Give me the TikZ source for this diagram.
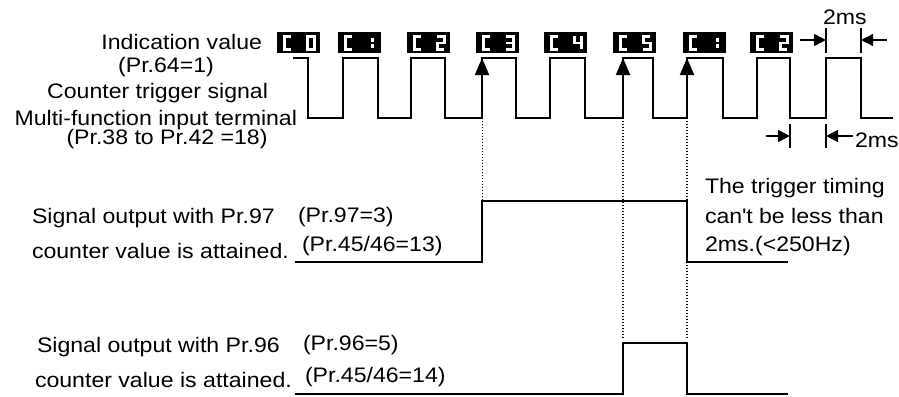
\documentclass[tikz,border=0pt]{standalone}
\usepackage{fontspec}
\setmainfont{Liberation Sans}[FakeStretch=1.1]
\usetikzlibrary{arrows.meta,calc}
\tikzset{
  lbl/.style={inner sep=0pt, outer sep=0pt},
  sig/.style={line width=2pt, line join=miter},
  outsig/.style={line width=2.6pt, line join=miter},
  guide/.style={line width=1.3pt, dash pattern=on 1.3pt off 1.7pt},
  segbox/.style={fill=black, draw=none, minimum width=43pt, minimum height=21pt, inner sep=0pt},
  segline/.style={white, line width=2.6pt, line join=miter, line cap=butt},
  trig/.style={line width=2pt, -{Triangle[length=17pt,width=14pt]}},
  dimarrow/.style={line width=1.5pt, -{Triangle[length=12pt,width=12pt]}},
  tickline/.style={line width=1.2pt},
  digC/.pic={\draw[segline] (6.5,0)--(0,0)--(0,13)--(6.5,13);},
  dig0/.pic={\draw[segline] (0,0) rectangle (7,13);},
  dig1/.pic={\draw[segline] (4,1.5)--(4,5.5) (4,7.5)--(4,11.5);},
  dig2/.pic={\draw[segline] (0,0)--(7,0)--(7,6.5)--(0,6.5)--(0,13)--(7,13);},
  dig3/.pic={\draw[segline] (0,0)--(7,0)--(7,13)--(0,13) (0,6.5)--(7,6.5);},
  dig4/.pic={\draw[segline] (0,0)--(0,6.5)--(7,6.5) (7,0)--(7,13);},
  dig5/.pic={\draw[segline] (7,0)--(0,0)--(0,6.5)--(7,6.5)--(7,13)--(0,13);},
}
\newcommand\indbox[3]{%
  \node[segbox] (#1) at ({#2+21.5},42.5) {};
  \pic at ({#2+7.3},36.5) {digC};
  \pic at ({#2+30.3},36.5) {#3};}
\begin{document}
\begin{tikzpicture}[x=1pt,y=-1pt, font=\fontsize{21}{25}\selectfont]
\useasboundingbox (0,0) rectangle (899,396);

% indication boxes
\indbox{i0}{277}{dig0}
\indbox{i1}{338}{dig1}
\indbox{i2}{407}{dig2}
\indbox{i3}{476}{dig3}
\indbox{i4}{544}{dig4}
\indbox{i5}{613}{dig5}
\indbox{i6}{683}{dig1}
\indbox{i7}{750}{dig2}

% left labels
\node[lbl, anchor=base east] (t1) at (262,50) {Indication value};
\node[lbl, anchor=base] (t2) at (166,73) {(Pr.64=1)};
\node[lbl, anchor=base east] (t3) at (268,98) {Counter trigger signal};
\node[lbl, anchor=base east] (t4) at (297,125) {Multi-function input terminal};
\node[lbl, anchor=base] (t5) at (167,144) {(Pr.38 to Pr.42 =18)};
\node[lbl, anchor=base west] (t6) at (32,223) {Signal output with Pr.97};
\node[lbl, anchor=base west] (t7) at (298,222) {(Pr.97=3)};
\node[lbl, anchor=base west] (t8) at (32,258) {counter value is attained.};
\node[lbl, anchor=base west] (t9) at (302,251) {(Pr.45/46=13)};
\node[lbl, anchor=base west] (t10) at (37,352) {Signal output with Pr.96};
\node[lbl, anchor=base west] (t11) at (303,350) {(Pr.96=5)};
\node[lbl, anchor=base west] (t12) at (35,387) {counter value is attained.};
\node[lbl, anchor=base west] (t13) at (305,382) {(Pr.45/46=14)};
% right note
\node[lbl, anchor=base west] (n1) at (705,193) {The trigger timing};
\node[lbl, anchor=base west] (n2) at (705,223) {can\textquotesingle t be less than};
\node[lbl, anchor=base west] (n3) at (705,251) {2ms.(<250Hz)};

% counter trigger signal
\draw[sig] (293,58) -| (308,118) -| (343,58) -| (378,118) -| (411,58) -| (445,118)
  -| (482,58) -| (516,118) -| (550,58) -| (585,118) -| (623,58) -| (653,118)
  -| (687,58) -| (723,118) -| (757,58) -| (790,118) -| (826,58) -| (861,118) -- (893,118);

% trigger edges
\coordinate (e3lo) at (482,118); \coordinate (e3hi) at (482,58);
\coordinate (e5lo) at (623,118); \coordinate (e5hi) at (623,58);
\coordinate (e6lo) at (687,118); \coordinate (e6hi) at (687,58);
\draw[trig] (e3lo) -- (e3hi);
\draw[trig] (e5lo) -- (e5hi);
\draw[trig] (e6lo) -- (e6hi);

% output Pr.97
\coordinate (a0) at (295,262); \coordinate (a1) at (482,262);
\coordinate (a2) at (482,201); \coordinate (a3) at (687,201);
\coordinate (a4) at (687,262); \coordinate (a5) at (788,262);
\draw[outsig] (a0) -- (a1) -- (a2) -- (a3) -- (a4) -- (a5);

% output Pr.96
\coordinate (b0) at (295,394); \coordinate (b1) at (623,394);
\coordinate (b2) at (623,343); \coordinate (b3) at (687,343);
\coordinate (b4) at (687,394); \coordinate (b5) at (788,394);
\draw[sig] (b0) -- (b1) -- (b2) -- (b3) -- (b4) -- (b5);

% dotted guides
\draw[guide, line width=1pt] ($(e3lo)+(0,3)$) -- (a2);
\draw[guide] ($(e5lo)+(0,3)$) -- ($(b2)+(0,-5)$);
\draw[guide] ($(e6lo)+(0,3)$) -- ($(b3)+(0,-5)$);

% 2ms dimensions (top)
\coordinate (u1) at (826,28); \coordinate (u1b) at (826,53);
\coordinate (u2) at (861,28); \coordinate (u2b) at (861,53);
\draw[tickline] (u1) -- (u1b);
\draw[tickline] (u2) -- (u2b);
\coordinate (ua) at (800,40); \coordinate (ub) at (887,40);
\draw[dimarrow] (ua) -- (826,40);
\draw[dimarrow] (ub) -- (861,40);
\node[lbl, anchor=base west] (ms1) at (823,25) {2ms};

% 2ms dimensions (bottom)
\coordinate (w1) at (790,124); \coordinate (w1b) at (790,148);
\coordinate (w2) at (826,124); \coordinate (w2b) at (826,148);
\draw[tickline] (w1) -- (w1b);
\draw[tickline] (w2) -- (w2b);
\coordinate (wa) at (766,136); \coordinate (wb) at (853,136);
\draw[dimarrow] (wa) -- (790,136);
\draw[dimarrow] (wb) -- (826,136);
\node[lbl, anchor=base west] (ms2) at (855,147) {2ms};
\end{tikzpicture}
\end{document}
